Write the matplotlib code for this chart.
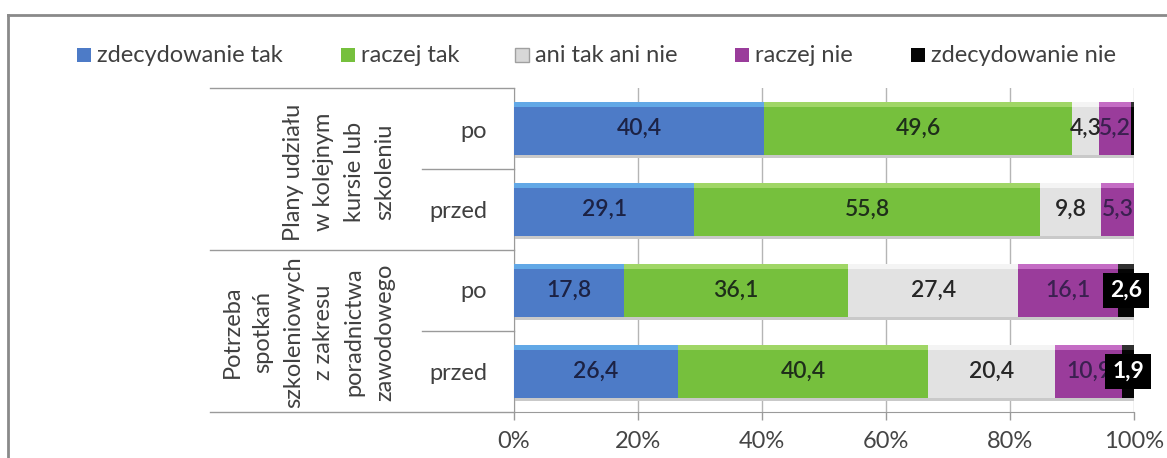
import matplotlib
matplotlib.use("Agg")
import matplotlib.pyplot as plt
from matplotlib.patches import Rectangle
from matplotlib.lines import Line2D

plt.rcParams["font.family"] = ["Lato", "DejaVu Sans"]

# dane: kolejność wierszy od góry
row_labels = ["po", "przed", "po", "przed"]
group_labels = ["Plany udziału\nw kolejnym\nkursie lub\nszkoleniu",
                "Potrzeba\nspotkań\nszkoleniowych\nz zakresu\nporadnictwa\nzawodowego"]
series_names = ["zdecydowanie tak", "raczej tak", "ani tak ani nie",
                "raczej nie", "zdecydowanie nie"]
zdecydowanie_tak = [40.4, 29.1, 17.8, 26.4]
raczej_tak = [49.6, 55.8, 36.1, 40.4]
ani_tak_ani_nie = [4.3, 9.8, 27.4, 20.4]
raczej_nie = [5.2, 5.3, 16.1, 10.9]
zdecydowanie_nie = [0.5, 0.0, 2.6, 1.9]

series = [zdecydowanie_tak, raczej_tak, ani_tak_ani_nie, raczej_nie, zdecydowanie_nie]
colors = ["#4d7bc7", "#76c03d", "#e2e2e2", "#9a3c9b", "#050505"]
top_colors = ["#62a8e6", "#a0d666", "#f4f4f4", "#c46cc4", "#303030"]
text_colors = ["#1c2244", "#1e2e1a", "#262626", "#3b2050", "white"]

W, H = 1167, 458
fig = plt.figure(figsize=(W / 100, H / 100), dpi=100)


def fx(px):
    return px / W


def fy(py):
    return 1 - py / H


ax = fig.add_axes([fx(514), fy(412), fx(1134) - fx(514), fy(88) - fy(412)])

y = [3, 2, 1, 0]
bar_h = 0.65
totals = [sum(v) for v in zip(*series)]
# cień pod słupkami
ax.barh([v - 0.04 for v in y], totals, height=bar_h, color="#c9c9c9",
        edgecolor="none", zorder=2)

left = [0.0] * 4
for i, vals in enumerate(series):
    ax.barh(y, vals, left=left, height=bar_h, color=colors[i],
            edgecolor="none", zorder=3)
    # jaśniejszy pasek u góry (efekt wypukłości)
    ax.barh([v + bar_h / 2 - 0.03 for v in y], vals, left=left, height=0.06,
            color=top_colors[i], edgecolor="none", zorder=4)
    for r in range(4):
        # najmniejsze wartości (poniżej 1%) zostają bez opisu
        if vals[r] >= 1:
            cx = left[r] + vals[r] / 2
            txt = f"{vals[r]:.1f}".replace(".", ",")
            if i == 4:
                ax.text(cx, y[r], txt, ha="center", va="center", fontsize=16.5,
                        fontweight="bold", color="white", zorder=6,
                        bbox=dict(boxstyle="square,pad=0.3", fc="black", ec="none"))
            else:
                ax.text(cx, y[r], txt, ha="center", va="center", fontsize=16.5,
                        fontweight="semibold", color=text_colors[i], zorder=5)
    left = [a + b for a, b in zip(left, vals)]

ax.set_xlim(0, 100)
ax.set_ylim(-0.5, 3.5)
ax.set_yticks([])
ax.set_xticks(range(0, 101, 20))
ax.set_xticklabels([f"{v}%" for v in range(0, 101, 20)], fontsize=17, color="#454545")
ax.tick_params(axis="x", length=6, width=1, color="#9a9a9a", pad=8)
ax.grid(axis="x", color="#b5b5b5", linewidth=1, zorder=0)
for s in ["top", "right"]:
    ax.spines[s].set_visible(False)
ax.spines["bottom"].set_color("#9a9a9a")
ax.spines["left"].set_color("#9a9a9a")

# linie tabeli kategorii po lewej
line_kw = dict(color="#9a9a9a", linewidth=1)
for py in [88, 250, 412]:
    fig.add_artist(Line2D([fx(210), fx(514)], [fy(py), fy(py)], **line_kw))
for py in [169, 331]:
    fig.add_artist(Line2D([fx(422), fx(514)], [fy(py), fy(py)], **line_kw))

row_px = [131, 212, 292, 373]
for lab, py in zip(row_labels, row_px):
    fig.text(fx(487), fy(py), lab, ha="right", va="center", fontsize=17, color="#404040")

for lab, py in zip(group_labels, [172, 332]):
    fig.text(fx(395), fy(py), lab, ha="right", va="center", rotation=90,
             multialignment="center", fontsize=17, color="#404040",
             linespacing=1.55)

# legenda rozmieszczona ręcznie
legend_x = [77, 341, 515, 735, 911]
for name, c, px in zip(series_names, colors, legend_x):
    ec = "#a0a0a0" if c == "#e2e2e2" else "none"
    fc = "#d8d8d8" if c == "#e2e2e2" else c
    fig.add_artist(Rectangle((fx(px), fy(62)), fx(14), fy(48) - fy(62),
                             facecolor=fc, edgecolor=ec, linewidth=1))
    fig.text(fx(px + 20), fy(55), name, ha="left", va="center",
             fontsize=17, color="#404040")

# ramka obrazka
frame_kw = dict(color="#8a8a8a", linewidth=2)
fig.add_artist(Line2D([fx(8), 1], [fy(15), fy(15)], **frame_kw))
fig.add_artist(Line2D([fx(8), fx(8)], [fy(15), 0], **frame_kw))

fig.savefig("out.png", dpi=100)
